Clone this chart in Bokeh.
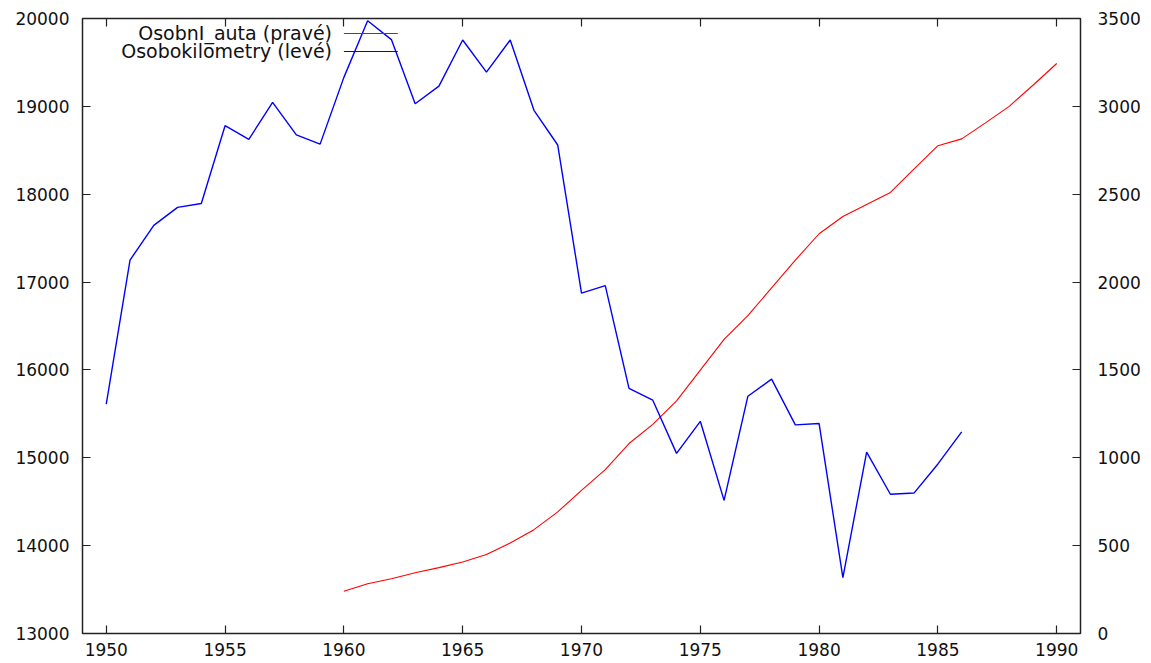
from bokeh.plotting import figure
from bokeh.models import Range1d, LinearAxis, FixedTicker, Label
from bokeh.embed import file_html
from bokeh.resources import INLINE

# ---- data ----
years_km = list(range(1950, 1987))
osobokilometry = [15610, 17250, 17645, 17850, 17895, 18780, 18625, 19045, 18675, 18570,
                  19330, 19975, 19760, 19030, 19230, 19755, 19390, 19755, 18955, 18560,
                  16875, 16960, 15790, 15655, 15050, 15415, 14515, 15700, 15895, 15375,
                  15390, 13635, 15065, 14585, 14600, 14930, 15295]

years_auta = list(range(1960, 1991))
osobni_auta = [240, 283, 312, 346, 375, 407, 450, 515, 591, 692,
               815, 933, 1081, 1190, 1324, 1499, 1674, 1809, 1967, 2125,
               2275, 2373, 2442, 2510, 2644, 2776, 2815, 2906, 3000, 3120, 3244]

x_ticks = [1950, 1955, 1960, 1965, 1970, 1975, 1980, 1985, 1990]
left_ticks = [13000, 14000, 15000, 16000, 17000, 18000, 19000, 20000]
right_ticks = [0, 500, 1000, 1500, 2000, 2500, 3000, 3500]

label_auta = "OsobnI_auta (pravé)"
label_km = "Osobokilometry (levé)"

FONT = "DejaVu Sans"
TICK_FS = "17px"
LEG_FS = "19px"

p = figure(width=1145, height=660, output_backend="svg", toolbar_location=None,
           x_range=Range1d(1949, 1991), y_range=Range1d(13000, 20000),
           min_border_left=82, min_border_right=65, min_border_top=18, min_border_bottom=27)
p.extra_y_ranges = {"right": Range1d(0, 3500)}
p.xgrid.visible = False
p.ygrid.visible = False
p.background_fill_color = "white"
p.border_fill_color = "white"
p.outline_line_color = "#222222"
p.outline_line_width = 1.5


def style_axis(ax, standoff):
    ax.major_tick_in = 8
    ax.major_tick_out = 0
    ax.minor_tick_in = 0
    ax.minor_tick_out = 0
    ax.axis_line_color = None
    ax.major_tick_line_color = "#222222"
    ax.major_tick_line_width = 1.2
    ax.major_label_text_font = FONT
    ax.major_label_text_font_size = TICK_FS
    ax.major_label_text_color = "#111111"
    ax.major_label_standoff = standoff


xa = p.xaxis[0]
xa.ticker = FixedTicker(ticks=x_ticks)
style_axis(xa, 9)

ya = p.yaxis[0]
ya.ticker = FixedTicker(ticks=left_ticks)
style_axis(ya, 13)

ra = LinearAxis(y_range_name="right", ticker=FixedTicker(ticks=right_ticks))
style_axis(ra, 17)
p.add_layout(ra, "right")

ta = LinearAxis(ticker=FixedTicker(ticks=x_ticks))
style_axis(ta, 0)
ta.major_label_text_font_size = "0px"
ta.major_label_text_alpha = 0
p.add_layout(ta, "above")

# series
p.line(years_auta, osobni_auta, y_range_name="right", line_color="#ff0000", line_width=1.1)
p.line(years_km, osobokilometry, line_color="#0000ff", line_width=1.4)

# gnuplot-style key (text right-aligned, sample line to the right)
leg_text_x = 1959.5
leg_line_x0 = 1960.0
leg_line_x1 = 1962.27
leg_rows = [(19830, label_auta, "#ff0000"), (19625, label_km, "#0000ff")]
for yv, txt, col in leg_rows:
    p.add_layout(Label(x=leg_text_x, y=yv, text=txt, text_align="right",
                       text_baseline="middle", text_font=FONT,
                       text_font_size=LEG_FS, text_color="#111111"))
    p.segment(x0=[leg_line_x0], y0=[yv], x1=[leg_line_x1], y1=[yv],
              line_color=col, line_width=1.1)

open("out.html", "w").write(file_html(p, INLINE))
